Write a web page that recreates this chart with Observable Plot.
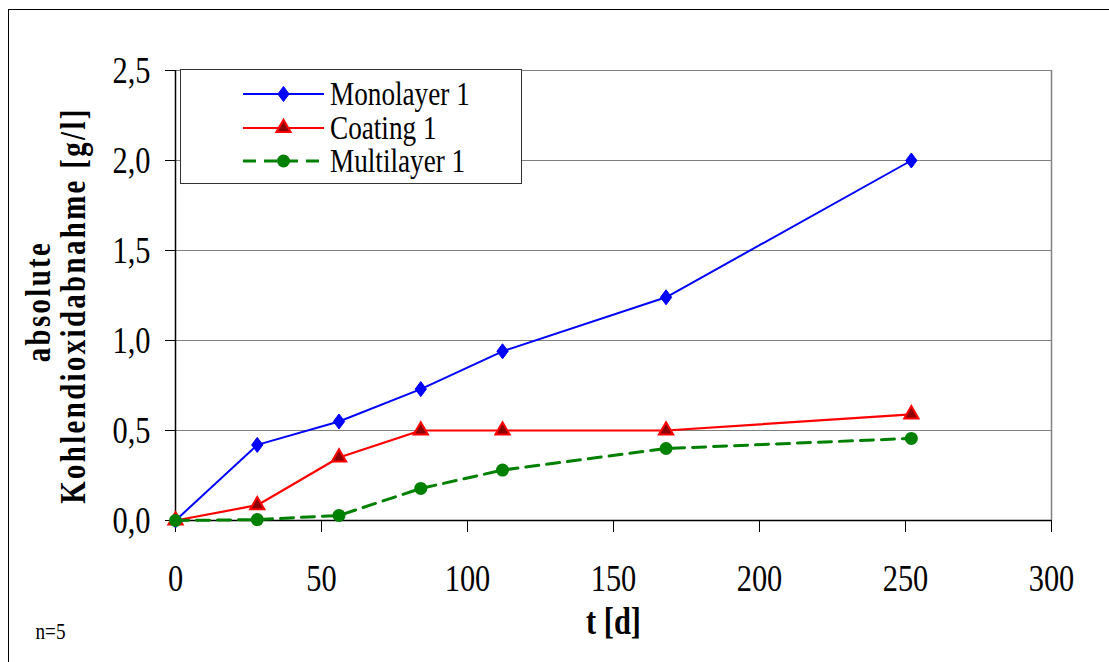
<!DOCTYPE html>
<html>
<head>
<meta charset="utf-8">
<script src="https://cdn.jsdelivr.net/npm/d3@7"></script>
<script src="https://cdn.jsdelivr.net/npm/@observablehq/plot@0.6"></script>
<style>
  html, body { margin: 0; padding: 0; background: #fff; overflow: hidden; }
  #wrap { position: relative; width: 1109px; height: 662px; overflow: hidden; background: #fff; }
  #frame { position: absolute; left: 8px; top: 9px; width: 1120px; height: 700px; border: 1.5px solid #000; box-sizing: border-box; pointer-events: none; }
  #legend { position: absolute; left: 180px; top: 69px; width: 342px; height: 115px; border: 1.5px solid #333; background: #fff; box-sizing: border-box; font-family: "Liberation Serif", "DejaVu Serif", serif; }
  .row { position: absolute; left: 0; height: 30px; width: 100%; }
  .row svg { position: absolute; left: 61px; top: 0; }
  .row span { position: absolute; left: 149px; top: 0; font-size: 34px; line-height: 30px; white-space: nowrap; display: inline-block; transform: scaleX(0.8); transform-origin: left center; color: #000; font-family: "Liberation Serif", "DejaVu Serif", serif; }
</style>
</head>
<body>
<div id="wrap"></div>
<script>
// ---- data ----
const days = [0, 28, 56, 84, 112, 168, 252];
const monolayer = [0, 0.42, 0.55, 0.73, 0.94, 1.24, 2.0];
const coating = [0, 0.085, 0.35, 0.50, 0.50, 0.50, 0.59];
const multilayer = [0, 0.005, 0.028, 0.178, 0.28, 0.40, 0.456];
const seriesNames = ["Monolayer 1", "Coating 1", "Multilayer 1"];
const xTicks = [0, 50, 100, 150, 200, 250, 300];
const yTicks = [0, 0.5, 1.0, 1.5, 2.0, 2.5];
const yLabelLines = ["absolute", "Kohlendioxidabnahme [g/l]"];
const xLabel = "t [d]";
const noteText = "n=5";

// wider diamond (Excel-like marker)
const wideDiamond = {
  draw(context, size) {
    const h = Math.sqrt(size / 1.5), w = h * 0.75;
    context.moveTo(0, -h); context.lineTo(w, 0); context.lineTo(0, h); context.lineTo(-w, 0); context.closePath();
  }
};

// ---- styles ----
const styles = [
  {color: "#0000ff", fill: "#0000ff", symbol: wideDiamond, r: 5.2, markStroke: 1, width: 2, dash: null},
  {color: "#ff0000", fill: "#8b0000", symbol: d3.symbolTriangle, r: 5.3, markStroke: 2, width: 2.2, dash: null},
  {color: "#008000", fill: "#008000", symbol: d3.symbolCircle, r: 6.5, markStroke: 0, width: 3, dash: "13,8"}
];
const values = [monolayer, coating, multilayer];
const series = seriesNames.map((name, k) => days.map((t, i) => ({t, v: values[k][i], s: name})));

const SX = 0.8; // narrow look of the serif font
const serif = '"Liberation Serif", "DejaVu Serif", serif';
const fmtY = d => d3.format(".1f")(d).replace(".", ",");

const seriesMarks = series.flatMap((data, k) => {
  const st = styles[k];
  return [
    Plot.line(data, {x: "t", y: "v", stroke: st.color, strokeWidth: st.width, strokeDasharray: st.dash, curve: "linear"}),
    Plot.dot(data, {x: "t", y: "v", symbol: st.symbol, r: st.r, fill: st.fill, stroke: st.markStroke ? st.color : "none", strokeWidth: st.markStroke})
  ];
});

const plot = Plot.plot({
  width: 1109,
  height: 662,
  marginLeft: 175,
  marginRight: 58,
  marginTop: 70,
  marginBottom: 142,
  style: {fontFamily: serif, fontSize: "37px", color: "#000", background: "transparent", overflow: "visible"},
  x: {domain: [0, 300]},
  y: {domain: [0, 2.5]},
  marks: [
    Plot.gridY(yTicks.slice(1), {stroke: "#808080", strokeOpacity: 1, strokeWidth: 1.2}),
    Plot.ruleX([300], {stroke: "#808080", strokeWidth: 1.5}),
    Plot.ruleY([0], {stroke: "#000", strokeWidth: 1.5}),
    Plot.ruleX([0], {stroke: "#000", strokeWidth: 1.5}),
    Plot.axisY(yTicks, {tickSize: 10, tickPadding: 15, tickFormat: fmtY, label: null, fontSize: 38, fontFamily: serif}),
    Plot.axisX(xTicks, {tickSize: 12, tickPadding: 32, tickFormat: d => String(d), label: null, fontSize: 38, fontFamily: serif}),
    ...seriesMarks,
    Plot.text([yLabelLines[1]], {text: d => d, frameAnchor: "left", textAnchor: "middle", rotate: -90, dx: -102, dy: 10, fontWeight: "bold", fontSize: 36, fontFamily: serif, fill: "#000"}),
    Plot.text([yLabelLines[0]], {text: d => d, frameAnchor: "left", textAnchor: "middle", rotate: -90, dx: -137, dy: 6, fontWeight: "bold", fontSize: 36, fontFamily: serif, fill: "#000"}),
    Plot.text([xLabel], {text: d => d, frameAnchor: "bottom", textAnchor: "middle", dy: 113, fontWeight: "bold", fontSize: 38, fontFamily: serif, fill: "#000"}),
    Plot.text([noteText], {text: d => d, frameAnchor: "bottom-left", textAnchor: "start", dx: -140, dy: 118, fontSize: 24, fontFamily: serif, fill: "#000"})
  ]
});

// narrow serif look + letter spacing of the y label
plot.querySelectorAll("text").forEach(t => {
  const x = t.getAttribute("x");
  let tx = 0;
  if (x !== null && /^-?[\d.]+$/.test(x)) { tx = +x; t.removeAttribute("x"); }
  const tr = t.getAttribute("transform") || "";
  t.setAttribute("transform", `${tr} translate(${tx},0) scale(${SX},1)`);
  if (yLabelLines.includes(t.textContent.trim())) t.style.letterSpacing = "3px";
});

const wrap = document.getElementById("wrap");
wrap.appendChild(plot);

const frame = document.createElement("div");
frame.id = "frame";
wrap.appendChild(frame);

// legend
const legend = document.createElement("div");
legend.id = "legend";
wrap.appendChild(legend);
const rowCenters = [24, 58, 91];
seriesNames.forEach((name, k) => {
  const st = styles[k];
  const row = document.createElement("div");
  row.className = "row";
  row.style.top = (rowCenters[k] - 15) + "px";
  const s = d3.create("svg").attr("width", 84).attr("height", 30);
  s.append("line").attr("x1", 1).attr("x2", 82).attr("y1", 15).attr("y2", 15)
    .attr("stroke", st.color).attr("stroke-width", st.width).attr("stroke-dasharray", st.dash);
  s.append("path").attr("transform", "translate(41.5,15)")
    .attr("d", d3.symbol(st.symbol, st.r * st.r * Math.PI)())
    .attr("fill", st.fill).attr("stroke", st.markStroke ? st.color : "none").attr("stroke-width", st.markStroke);
  row.appendChild(s.node());
  const span = document.createElement("span");
  span.textContent = name;
  row.appendChild(span);
  legend.appendChild(row);
});
</script>
</body>
</html>
